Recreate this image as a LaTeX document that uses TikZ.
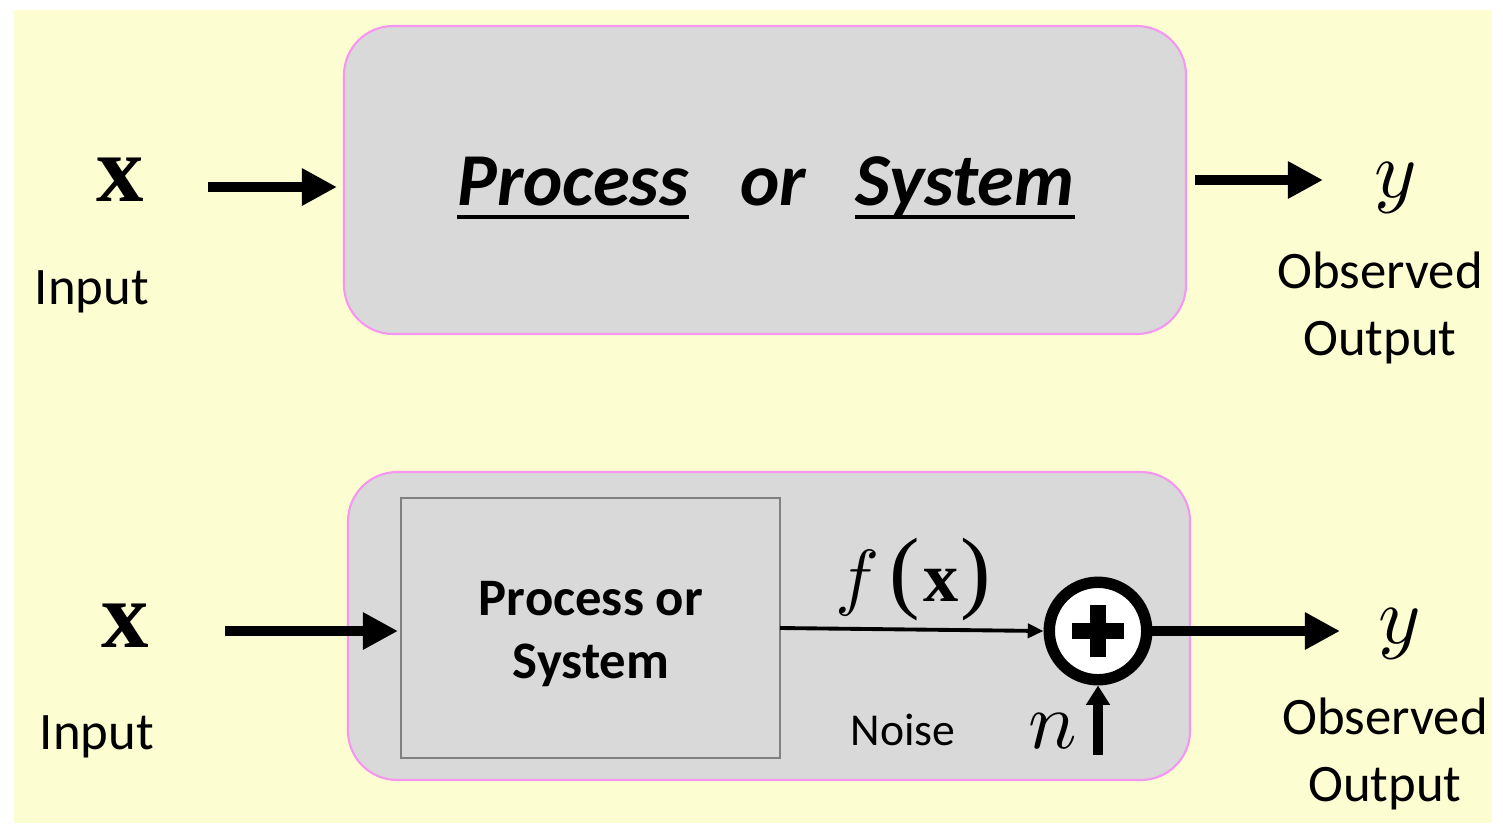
\documentclass[tikz,border=0pt]{standalone}
\usepackage{graphicx}
\usepackage{fontspec}
\setmainfont{Carlito}
\newfontfamily\tms{Liberation Serif}
\usetikzlibrary{arrows.meta,calc}
\definecolor{bgyellow}{RGB}{253,253,210}
\definecolor{boxgray}{RGB}{217,217,217}
\definecolor{boxpink}{RGB}{245,150,240}
\definecolor{innergray}{RGB}{128,128,128}
\newcommand{\mvarbig}[1]{\scalebox{4.6}{\fontsize{10}{12}\selectfont$#1$}}
\tikzset{
  outerbox/.style={draw=boxpink, line width=1.2pt, fill=boxgray, rounded corners=28pt},
  bigarrow/.style={line width=5.7pt, -{Triangle[length=20pt,width=20pt]}},
  thinarrow/.style={line width=2.2pt, -{Triangle[length=9pt,width=8pt]}},
  lbl/.style={inner sep=0pt, font=\fontsize{30}{34}\selectfont},
  mvar/.style={inner sep=0pt},
  xvar/.style={inner sep=0pt, font=\fontsize{54}{58}\selectfont\tms\bfseries},
  ttl/.style={inner sep=0pt, anchor=base west, font=\fontsize{42.5}{48}\selectfont\bfseries\itshape},
  ul/.style={line width=2.8pt},
}
\begin{document}
\begin{tikzpicture}[x=0.02cm,y=-0.02cm]
\useasboundingbox (0,0) rectangle (1503,829);
\fill[white] (0,0) rectangle (1503,829);
\fill[bgyellow] (14,10) rectangle (1492,823);

% ---------- top ----------
\draw[outerbox] (344,26) rectangle (1186,334);
\node[ttl] (p1) at (457,205) {Process};
\node[ttl] (p2) at (740,205) {or};
\node[ttl] (p3) at (855,205) {System};
\draw[ul] ($(p1.base west)+(0,12)$) -- ($(p1.base east)+(0,12)$);
\draw[ul] ($(p3.base west)+(0,12)$) -- ($(p3.base east)+(0,12)$);

\node[xvar] (x1) at (120,180) {x};
\node[lbl] (in1) at (92,292) {Input};
\coordinate (a1s) at (208,187);
\coordinate (a1e) at (337,187);
\draw[bigarrow] (a1s) -- (a1e);

\coordinate (a2s) at (1195,180);
\coordinate (a2e) at (1323,180);
\draw[bigarrow] (a2s) -- (a2e);
\node[mvar] (y1) at (1396,188) {\mvarbig{y}};
\node[lbl, align=center] (out1) at (1380,308) {Observed\\[4pt]Output};

% ---------- bottom ----------
\draw[outerbox] (348,472) rectangle (1190,780);
\draw[draw=innergray, line width=1.2pt, fill=boxgray] (401,498) rectangle (780,758);
\node[inner sep=0pt, align=center, font=\fontsize{30}{36}\selectfont\bfseries] (ps) at (591,634) {Process or\\System};

\node[xvar] (x2) at (125,626) {x};
\node[lbl] (in2) at (97,737) {Input};
\coordinate (b1s) at (225,631);
\draw[bigarrow] (b1s) -- (398,631);

\node[circle, draw=black, line width=6.5pt, fill=white, minimum size=55.5pt] (sum) at (1098,631) {};
\fill[black] ($(sum.center)+(-26,-8)$) rectangle ($(sum.center)+(26,8)$);
\fill[black] ($(sum.center)+(-8,-26)$) rectangle ($(sum.center)+(8,26)$);

\node[inner sep=0pt, font=\fontsize{40}{44}\selectfont] (fx) at (913,580)
  {\scalebox{4.2}{\fontsize{10}{12}\selectfont$f$}\hspace{6pt}{\tms\fontsize{52}{56}\selectfont(}\hspace{2pt}{\tms\bfseries x}\hspace{1pt}{\tms\fontsize{52}{56}\selectfont)}};
\coordinate (fs) at (780,628);
\draw[thinarrow] (fs) -- (sum.west);

\coordinate (b2e) at (1340,631);
\draw[bigarrow] (sum.east) -- (b2e);
\node[mvar] (y2) at (1400,634) {\mvarbig{y}};
\node[lbl, align=center] (out2) at (1385,754) {Observed\\[4pt]Output};

\node[lbl, font=\fontsize{26}{30}\selectfont] (noise) at (903,730) {Noise};
\node[mvar] (n) at (1053,731) {\mvarbig{n}};
\coordinate (ns) at (1098,755);
\draw[line width=5.2pt, -{Triangle[length=11pt,width=13pt]}] (ns) -- (sum.south);
\end{tikzpicture}
\end{document}
